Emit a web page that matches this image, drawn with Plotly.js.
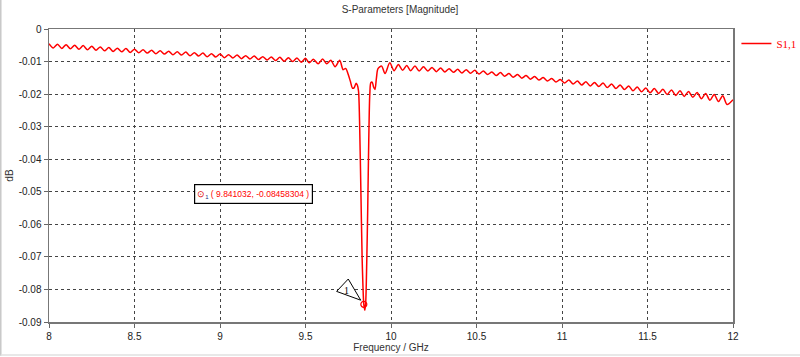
<!DOCTYPE html>
<html>
<head>
<meta charset="utf-8">
<script src="https://cdn.plot.ly/plotly-3.0.1.min.js"></script>
<style>html,body{margin:0;padding:0;background:#fff;}#chart{width:800px;height:357px;}</style>
</head>
<body>
<div id="chart"></div>
<script>
// Frequency (GHz) and S1,1 magnitude (dB)
const freq = [
 8.000,8.025,8.050,8.075,8.100,8.125,8.150,8.175,8.200,8.225,8.250,8.275,8.300,8.325,8.350,8.375,8.400,8.425,8.450,8.475,
 8.500,8.525,8.550,8.575,8.600,8.625,8.650,8.675,8.700,8.725,8.750,8.775,8.800,8.825,8.850,8.875,8.900,8.925,8.950,8.975,
 9.000,9.025,9.050,9.075,9.100,9.125,9.150,9.175,9.200,9.225,9.250,9.275,9.300,9.325,9.350,9.375,9.400,9.425,9.450,9.475,
 9.500,9.522,9.546,9.574,9.600,9.624,9.648,9.673,9.700,9.720,9.735,9.750,9.762,9.775,9.785,9.795,9.803,9.810,9.816,9.824,
 9.831,9.836,9.841,9.847,9.852,9.858,9.864,9.870,9.876,9.882,9.890,9.898,9.906,9.915,9.924,9.945,9.965,9.993,10.018,10.043,
 10.068,10.092,10.115,10.140,10.165,10.190,10.215,10.240,10.265,10.290,10.315,10.340,10.365,10.390,10.415,10.440,10.465,10.490,
 10.515,10.540,10.565,10.590,10.615,10.640,10.665,10.690,10.715,10.740,10.765,10.790,10.815,10.840,10.865,10.890,10.915,10.940,
 10.965,10.990,11.015,11.040,11.065,11.090,11.115,11.140,11.165,11.190,11.215,11.240,11.265,11.290,11.315,11.340,11.365,11.390,
 11.415,11.440,11.465,11.490,11.515,11.540,11.565,11.590,11.615,11.640,11.665,11.690,11.715,11.740,11.765,11.790,11.815,11.840,
 11.865,11.890,11.915,11.940,11.965,12.000
];
const s11 = [
 -0.0045,-0.0058,-0.0047,-0.0060,-0.0048,-0.0061,-0.0050,-0.0062,-0.0051,-0.0064,-0.0053,-0.0065,-0.0055,-0.0067,-0.0057,-0.0069,-0.0059,-0.0070,-0.0060,-0.0072,
 -0.0062,-0.0073,-0.0064,-0.0074,-0.0065,-0.0076,-0.0067,-0.0077,-0.0068,-0.0079,-0.0070,-0.0080,-0.0071,-0.0082,-0.0073,-0.0083,-0.0074,-0.0085,-0.0076,-0.0086,
 -0.0077,-0.0088,-0.0079,-0.0089,-0.0080,-0.0091,-0.0082,-0.0092,-0.0083,-0.0094,-0.0085,-0.0095,-0.0086,-0.0097,-0.0087,-0.0099,-0.0088,-0.0100,-0.0089,-0.0102,
 -0.0090,-0.0104,-0.0093,-0.0107,-0.0092,-0.0107,-0.0096,-0.0116,-0.0096,-0.0125,-0.0121,-0.0140,-0.0160,-0.0182,-0.0180,-0.0167,-0.0172,-0.0190,-0.0280,-0.0500,
 -0.0700,-0.0790,-0.0846,-0.0864,-0.0840,-0.0720,-0.0550,-0.0340,-0.0200,-0.0165,-0.0163,-0.0178,-0.0186,-0.0150,-0.0122,-0.0114,-0.0137,-0.0104,-0.0128,-0.0109,
 -0.0127,-0.0112,-0.0128,-0.0114,-0.0129,-0.0116,-0.0129,-0.0118,-0.0131,-0.0120,-0.0132,-0.0122,-0.0133,-0.0124,-0.0135,-0.0125,-0.0136,-0.0127,
 -0.0138,-0.0129,-0.0140,-0.0132,-0.0143,-0.0134,-0.0145,-0.0137,-0.0148,-0.0140,-0.0151,-0.0143,-0.0154,-0.0146,-0.0157,-0.0149,-0.0160,-0.0152,
 -0.0163,-0.0155,-0.0166,-0.0157,-0.0169,-0.0160,-0.0172,-0.0162,-0.0175,-0.0164,-0.0177,-0.0166,-0.0180,-0.0169,-0.0183,-0.0172,-0.0186,-0.0175,
 -0.0190,-0.0178,-0.0193,-0.0181,-0.0196,-0.0183,-0.0198,-0.0185,-0.0201,-0.0187,-0.0204,-0.0190,-0.0207,-0.0192,-0.0210,-0.0195,-0.0214,-0.0198,
 -0.0219,-0.0201,-0.0223,-0.0205,-0.0232,-0.0217
];
// Marker 1
const markerFreq = [9.841032];
const markerVal = [-0.08458304];
const markerLabel = "( 9.841032, -0.08458304 )";
// Tick labels
const yTickVals = [0,-0.01,-0.02,-0.03,-0.04,-0.05,-0.06,-0.07,-0.08,-0.09];
const yTickText = ["0","-0.01","-0.02","-0.03","-0.04","-0.05","-0.06","-0.07","-0.08","-0.09"];
const xTickVals = [8,8.5,9,9.5,10,10.5,11,11.5,12];
const xTickText = ["8","8.5","9","9.5","10","10.5","11","11.5","12"];

const font = "Liberation Sans, Arial, sans-serif";
const traces = [
  {x: freq, y: s11, type: 'scatter', mode: 'lines', name: 'S1,1',
   line: {color: '#ff0000', width: 1.5, shape: 'spline', smoothing: 0.8}},
  {x: markerFreq, y: markerVal, type: 'scatter', mode: 'markers', showlegend: false,
   marker: {symbol: 'circle-open', size: 6, color: '#ff0000', line: {width: 1.2, color: '#ff0000'}}}
];
const layout = {
  width: 800, height: 357,
  margin: {l: 49, r: 67, t: 29, b: 35, autoexpand: false},
  paper_bgcolor: '#ffffff', plot_bgcolor: '#ffffff',
  font: {family: font, size: 10, color: '#222'},
  title: {text: 'S-Parameters [Magnitude]', x: 0.5, xref: 'container', y: 0.972, yanchor: 'middle',
          font: {family: font, size: 10, color: '#333'}},
  showlegend: true,
  legend: {x: 1.005, xanchor: 'left', y: 1.0, yanchor: 'top', bgcolor: 'rgba(0,0,0,0)',
           font: {family: 'Liberation Serif, DejaVu Serif, serif', size: 11, color: '#ff0000'},
           itemwidth: 30, tracegroupgap: 0},
  xaxis: {range: [8, 12], tickvals: xTickVals, ticktext: xTickText,
          showgrid: true, gridcolor: '#444', griddash: 'dot', gridwidth: 1,
          showline: true, linecolor: '#777', linewidth: 1.5, mirror: true,
          ticks: 'outside', ticklen: 4, tickcolor: '#666', zeroline: false, automargin: false,
          tickfont: {family: font, size: 10, color: '#222'},
          title: {text: 'Frequency / GHz', standoff: 2, font: {family: font, size: 10, color: '#333'}}},
  yaxis: {range: [-0.09, 0], tickvals: yTickVals, ticktext: yTickText,
          showgrid: true, gridcolor: '#444', griddash: 'dot', gridwidth: 1,
          showline: true, linecolor: '#777', linewidth: 1.5, mirror: true,
          ticks: 'outside', ticklen: 4, tickcolor: '#666', zeroline: false, automargin: false,
          tickfont: {family: font, size: 10, color: '#222'},
          title: {text: 'dB', standoff: 3, font: {family: font, size: 10, color: '#333'}}},
  shapes: [
    {type: 'path', xref: 'x', yref: 'y',
     path: 'M 9.750,-0.0768 L 9.682,-0.0806 L 9.823,-0.0833 Z',
     fillcolor: '#ffffff', line: {color: '#000', width: 1}},
    {type: 'line', xref: 'paper', yref: 'paper', x0: -0.0705, x1: -0.0705, y0: -0.115, y1: 1.12,
     line: {color: '#c8c8c8', width: 1.5}},
    {type: 'line', xref: 'paper', yref: 'paper', x0: -0.0705, x1: 1.1, y0: -0.1125, y1: -0.1125,
     line: {color: '#e0e0e0', width: 1.5}}
  ],
  annotations: [
    {xref: 'x', yref: 'y', x: 9.193, y: -0.0506, showarrow: false,
     text: '<span style="color:#e00000">⊙</span><sub><span style="color:#1a2a80">1</span></sub> ' + markerLabel,
     font: {family: font, size: 8.5, color: '#ff0000'}, height: 14,
     bgcolor: '#ffffff', bordercolor: '#000000', borderwidth: 1.2, borderpad: 2},
    {xref: 'x', yref: 'y', x: 9.742, y: -0.0802, showarrow: false, text: '1',
     font: {family: 'Liberation Serif, serif', size: 10, color: '#000'}}
  ]
};
Plotly.newPlot('chart', traces, layout, {staticPlot: true, displayModeBar: false});
</script>
</body>
</html>
